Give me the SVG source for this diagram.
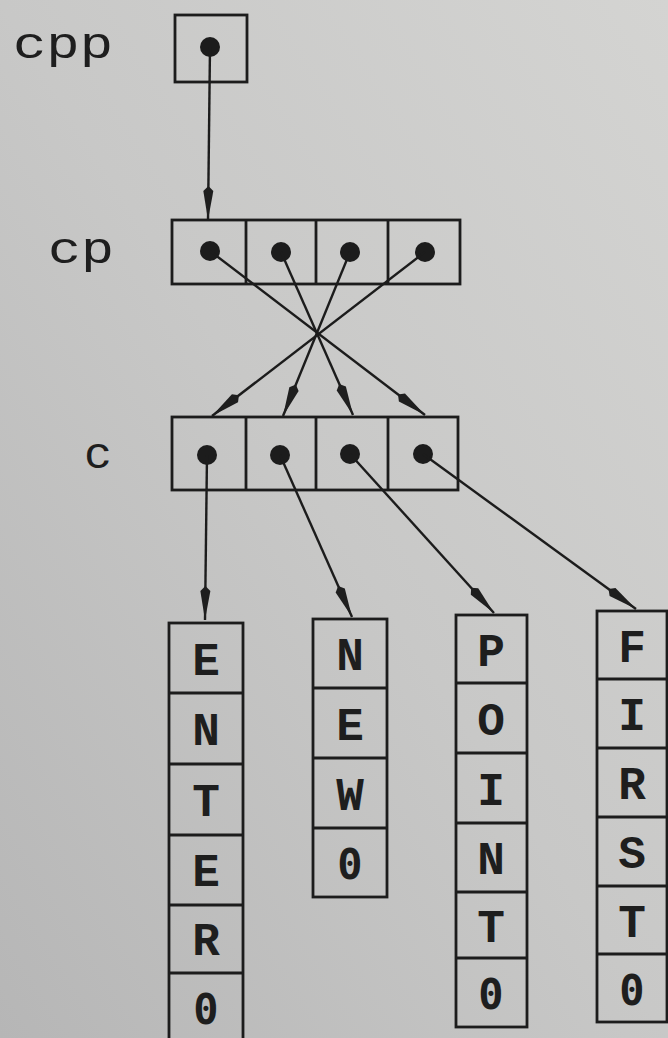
<svg xmlns="http://www.w3.org/2000/svg" width="668" height="1038" viewBox="0 0 668 1038">
<defs>
<linearGradient id="bg" x1="1" y1="0" x2="0" y2="1">
<stop offset="0" stop-color="#d4d4d2"/>
<stop offset="0.5" stop-color="#c8c8c7"/>
<stop offset="1" stop-color="#b6b6b6"/>
</linearGradient>
<marker id="ah" viewBox="0 0 34 12" refX="34" refY="6" markerWidth="34" markerHeight="12" markerUnits="userSpaceOnUse" orient="auto">
<path d="M0,6 L5,1 L34,6 L5,11 z" fill="#1e1e1e"/>
</marker>
</defs>
<style>
.box{fill:none;stroke:#1c1c1c;stroke-width:2.8}
.dot{fill:#1c1c1c}
.lbl{font-family:"Liberation Mono","Courier New",monospace;font-size:44px;fill:#1e1e1e}
.ch{font-family:"Liberation Mono","Courier New",monospace;font-size:46px;font-weight:bold;fill:#1e1e1e;text-anchor:middle}
.z{font-family:"DejaVu Sans Mono",monospace;font-size:42px}
.cn{fill:none;stroke:#1c1c1c;stroke-width:2.4;marker-end:url(#ah)}
</style>
<rect x="0" y="0" width="668" height="1038" fill="url(#bg)"/>

<g id="cpp">
<text class="lbl" x="13" y="58" textLength="100" lengthAdjust="spacingAndGlyphs">cpp</text>
<rect class="box" x="175" y="15" width="72" height="67"/>
<circle class="dot" cx="210" cy="47" r="10"/>
</g>

<g id="cp">
<text class="lbl" x="48" y="263" textLength="66" lengthAdjust="spacingAndGlyphs">cp</text>
<rect class="box" x="172" y="220" width="288" height="64"/>
<line class="box" x1="246" y1="220" x2="246" y2="284"/>
<line class="box" x1="316" y1="220" x2="316" y2="284"/>
<line class="box" x1="388" y1="220" x2="388" y2="284"/>
<circle class="dot" cx="210" cy="251" r="10"/>
<circle class="dot" cx="281" cy="252" r="10"/>
<circle class="dot" cx="350" cy="252" r="10"/>
<circle class="dot" cx="425" cy="252" r="10"/>
</g>

<g id="c">
<text class="lbl" x="84" y="468" textLength="28" lengthAdjust="spacingAndGlyphs">c</text>
<rect class="box" x="172" y="417" width="286" height="73"/>
<line class="box" x1="246" y1="417" x2="246" y2="490"/>
<line class="box" x1="316" y1="417" x2="316" y2="490"/>
<line class="box" x1="388" y1="417" x2="388" y2="490"/>
<circle class="dot" cx="207" cy="455" r="10"/>
<circle class="dot" cx="280" cy="455" r="10"/>
<circle class="dot" cx="350" cy="454" r="10"/>
<circle class="dot" cx="423" cy="454" r="10"/>
</g>

<g id="enter">
<rect class="box" x="169" y="623" width="74" height="430"/>
<line class="box" x1="169" y1="693" x2="243" y2="693"/>
<line class="box" x1="169" y1="764" x2="243" y2="764"/>
<line class="box" x1="169" y1="835" x2="243" y2="835"/>
<line class="box" x1="169" y1="905" x2="243" y2="905"/>
<line class="box" x1="169" y1="973" x2="243" y2="973"/>
<text class="ch" x="206" y="675">E</text>
<text class="ch" x="206" y="745">N</text>
<text class="ch" x="206" y="816">T</text>
<text class="ch" x="206" y="886">E</text>
<text class="ch" x="206" y="955">R</text>
<text class="ch z" x="206" y="1024">0</text>
</g>

<g id="new">
<rect class="box" x="313" y="619" width="74" height="278"/>
<line class="box" x1="313" y1="688" x2="387" y2="688"/>
<line class="box" x1="313" y1="758" x2="387" y2="758"/>
<line class="box" x1="313" y1="828" x2="387" y2="828"/>
<text class="ch" x="350" y="670">N</text>
<text class="ch" x="350" y="740">E</text>
<text class="ch" x="350" y="810">W</text>
<text class="ch z" x="350" y="879">0</text>
</g>

<g id="point">
<rect class="box" x="456" y="615" width="71" height="412"/>
<line class="box" x1="456" y1="683" x2="527" y2="683"/>
<line class="box" x1="456" y1="753" x2="527" y2="753"/>
<line class="box" x1="456" y1="823" x2="527" y2="823"/>
<line class="box" x1="456" y1="892" x2="527" y2="892"/>
<line class="box" x1="456" y1="958" x2="527" y2="958"/>
<text class="ch" x="491" y="666">P</text>
<text class="ch" x="491" y="735">O</text>
<text class="ch" x="491" y="805">I</text>
<text class="ch" x="491" y="874">N</text>
<text class="ch" x="491" y="942">T</text>
<text class="ch z" x="491" y="1009">0</text>
</g>

<g id="first">
<rect class="box" x="597" y="611" width="70" height="411"/>
<line class="box" x1="597" y1="679" x2="667" y2="679"/>
<line class="box" x1="597" y1="748" x2="667" y2="748"/>
<line class="box" x1="597" y1="817" x2="667" y2="817"/>
<line class="box" x1="597" y1="886" x2="667" y2="886"/>
<line class="box" x1="597" y1="954" x2="667" y2="954"/>
<text class="ch" x="632" y="662">F</text>
<text class="ch" x="632" y="730">I</text>
<text class="ch" x="632" y="799">R</text>
<text class="ch" x="632" y="868">S</text>
<text class="ch" x="632" y="937">T</text>
<text class="ch z" x="632" y="1005">0</text>
</g>

<g id="connectors">
<line class="cn" x1="210" y1="47" x2="208" y2="220"/>
<line class="cn" x1="210" y1="251" x2="425" y2="415"/>
<line class="cn" x1="281" y1="252" x2="353" y2="415"/>
<line class="cn" x1="350" y1="252" x2="283" y2="416"/>
<line class="cn" x1="425" y1="252" x2="212" y2="416"/>
<line class="cn" x1="207" y1="455" x2="205" y2="620"/>
<line class="cn" x1="280" y1="455" x2="352" y2="617"/>
<line class="cn" x1="350" y1="454" x2="494" y2="613"/>
<line class="cn" x1="423" y1="454" x2="636" y2="609"/>
</g>
</svg>
